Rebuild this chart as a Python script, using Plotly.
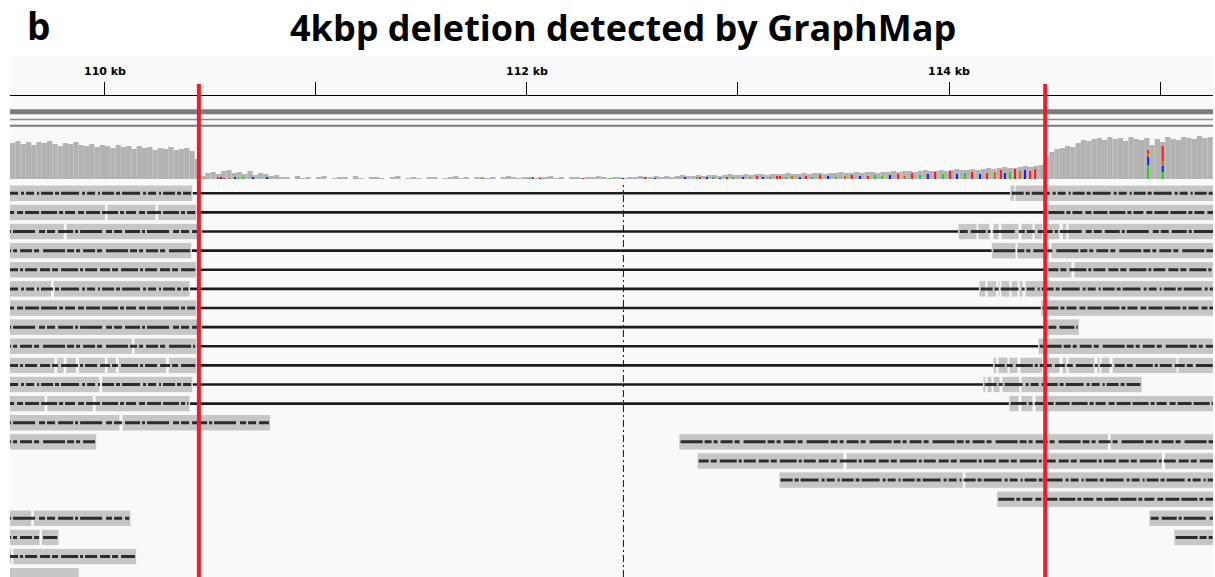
import plotly.graph_objects as go

# ---------------------------------------------------------------- page geometry
W, H = 1215, 577
M_L, M_R, M_T, M_B = 10, 2, 56, 0
PLOT_W = W - M_L - M_R
PLOT_H = H - M_T - M_B


def py(px):
    """pixel row on the page -> paper fraction"""
    return (H - M_B - px) / PLOT_H


def pxx(px):
    """pixel column on the page -> paper fraction"""
    return (px - M_L) / PLOT_W


# ---------------------------------------------------------------- data (kb)
view_kb = [109.5498, 115.2512]
tick_kb = [110, 111, 112, 113, 114, 115]
tick_text = ["110 kb", "", "112 kb", "", "114 kb", ""]
breakpoints_kb = [110.445, 114.456]
center_kb = 112.457

# read depth, three bin sets (start kb, bin size kb, depths)
cov_left_start, cov_left_step = 109.55, 0.025
cov_left = [36, 38, 35, 37, 34, 37, 36, 38, 35, 33, 36, 35, 37, 34, 33, 35, 32, 34,
            33, 31, 34, 32, 33, 30, 33, 31, 32, 29, 31, 30, 32, 29, 30, 31, 28, 20]
cov_mid_start, cov_mid_step = 110.45, 0.025
cov_mid = [3, 6, 7, 5, 8, 9, 6, 7, 5, 8, 4, 6, 5, 3, 4, 2,
           2, 0, 3, 1, 2, 0, 2, 3, 0, 1, 2, 2, 0, 3, 1, 0, 2, 2, 1, 0, 2, 3, 0, 1,
           2, 1, 0, 2, 2, 0, 1, 2, 3, 1, 2, 0, 2, 2, 1, 2, 0, 2, 3, 2, 1, 2, 2, 1,
           2, 2, 3, 1, 2, 0, 2, 2, 1, 2, 2, 3, 2, 1, 2, 2, 1, 2, 2, 3, 2, 2, 3, 2,
           3, 2, 3, 4, 3, 3, 4, 3, 4, 4, 3, 4, 5, 4, 4, 5, 4, 5, 5, 4, 5, 5,
           5, 6, 5, 5, 6, 5, 6, 6, 5, 6, 6, 7, 6, 6, 7, 6, 7, 7, 6, 7,
           7, 8, 7, 8, 8, 7, 8, 9, 8, 8, 9, 8, 9, 10, 9, 9, 10, 9, 10, 11,
           10, 11, 12, 11, 11, 12, 13, 12, 13, 14]
cov_right_start, cov_right_step = 114.45, 0.025
cov_right = [24, 27, 30, 31, 33, 32, 36, 39, 38, 40, 41, 39, 42, 40, 41, 38,
             42, 40, 39, 41, 34, 40, 37, 42, 40, 39, 42, 41, 40, 43, 41, 42]

# mismatching bases inside the deletion (position kb, base, count)
snv_sites = [
    (110.474, "G", 1), (110.536, "T", 2), (110.550, "C", 2), (110.564, "T", 1),
    (110.592, "G", 1), (110.616, "C", 2), (110.630, "A", 1), (110.654, "A", 2),
    (110.701, "C", 2), (110.768, "C", 2), (110.773, "A", 1), (111.787, "G", 1),
    (112.014, "A", 1), (112.028, "T", 2), (112.062, "T", 1), (112.265, "T", 1),
    (112.393, "A", 1), (112.455, "C", 1), (112.559, "T", 2), (112.607, "C", 1),
    (112.749, "C", 2), (112.806, "A", 2), (112.820, "T", 2), (112.853, "C", 2),
    (112.882, "A", 2), (112.915, "C", 1), (112.948, "T", 2), (112.976, "A", 2),
    (113.024, "C", 2), (113.057, "A", 2), (113.090, "T", 3), (113.118, "C", 2),
    (113.152, "A", 2), (113.185, "T", 3), (113.199, "T", 3), (113.227, "A", 2),
    (113.256, "G", 3), (113.294, "C", 2), (113.322, "T", 3), (113.351, "A", 2),
    (113.389, "T", 4), (113.427, "C", 3), (113.464, "A", 2), (113.507, "G", 3),
    (113.540, "T", 4), (113.578, "C", 3), (113.616, "T", 3), (113.649, "A", 4),
    (113.682, "A", 3), (113.720, "C", 4), (113.758, "T", 5), (113.791, "G", 3),
    (113.825, "T", 6), (113.863, "A", 4), (113.900, "C", 5), (113.934, "T", 7),
    (113.972, "A", 5), (114.005, "T", 8), (114.038, "C", 5), (114.076, "A", 6),
    (114.109, "T", 7), (114.147, "C", 5), (114.180, "T", 6), (114.218, "G", 7),
    (114.246, "T", 9), (114.265, "C", 6), (114.289, "A", 7), (114.313, "T", 10),
    (114.336, "G", 8), (114.360, "C", 9), (114.384, "T", 8), (114.408, "T", 10),
]

# mixed-allele columns right of the deletion (position kb, counts A, C, G, T)
allele_kb = [114.944, 115.013]
allele_A = [14, 7]
allele_C = [8, 6]
allele_G = [4, 5]
allele_T = [3, 15]

# aligned reads: one list per row, each read a list of aligned blocks (start, end) kb
read_rows = [
    [[(109.40, 110.416)], [(114.289, 114.313), (114.313, 115.40)]],
    [[(109.40, 110.003), (110.009, 110.242), (110.248, 110.435)], [(114.463, 115.40)]],
    [[(109.40, 109.807), (109.815, 110.458)],
     [(114.043, 114.133), (114.137, 114.194), (114.209, 114.237), (114.246, 114.332),
      (114.341, 114.398), (114.403, 114.445), (114.464, 114.526), (114.536, 114.559),
      (114.564, 115.40)]],
    [[(109.40, 110.411)], [(114.202, 114.318), (114.322, 114.476), (114.483, 115.40)]],
    [[(109.40, 110.435)], [(114.463, 114.583), (114.592, 115.40)]],
    [[(109.40, 109.747), (109.755, 110.403)],
     [(114.142, 114.175), (114.180, 114.227), (114.232, 114.242), (114.246, 114.289),
      (114.294, 114.327), (114.332, 114.351), (114.360, 115.40)]],
    [[(109.40, 110.435)], [(114.435, 115.40)]],
    [[(109.40, 110.458)], [(114.463, 114.618)]],
    [[(109.40, 110.131), (110.137, 110.435)], [(114.422, 115.40)]],
    [[(109.40, 109.763), (109.771, 109.807), (109.815, 109.866), (109.873, 110.003),
      (110.009, 110.055), (110.062, 110.292), (110.300, 110.435)],
     [(114.209, 114.227), (114.232, 114.280), (114.284, 114.327), (114.336, 114.445),
      (114.464, 114.526), (114.536, 114.559), (114.564, 114.692), (114.701, 114.716),
      (114.720, 114.763), (114.773, 115.081), (115.085, 115.40)]],
    [[(109.40, 109.976), (109.984, 110.416)],
     [(114.161, 114.175), (114.180, 114.204), (114.209, 114.242), (114.251, 114.336),
      (114.341, 114.915)]],
    [[(109.40, 109.716), (109.724, 109.945), (109.953, 110.403)],
     [(114.284, 114.332), (114.341, 114.398), (114.408, 115.40)]],
    [[(109.40, 110.071), (110.081, 110.785)]],
    [[(109.40, 109.961)], [(112.720, 114.756), (114.763, 115.40)]],
    [[(112.806, 113.502), (113.512, 115.012), (115.021, 115.40)]],
    [[(113.194, 114.068), (114.075, 115.40)]],
    [[(114.226, 115.40)]],
    [[(109.40, 109.653), (109.660, 110.123)], [(114.948, 115.40)]],
    [[(109.40, 109.692), (109.698, 109.782)], [(115.066, 115.40)]],
    [[(109.40, 109.558), (109.563, 110.150)]],
    [[(109.40, 109.878)]],
]
# rows whose mismatch marks fall below the visible window
unmarked_rows = [20]

# split alignments spanning the deletion: (row, gap start kb, gap end kb)
deletion_spans = [
    (0, 110.416, 114.289), (1, 110.435, 114.463), (2, 110.458, 114.043),
    (3, 110.411, 114.202), (4, 110.435, 114.463), (5, 110.403, 114.142),
    (6, 110.435, 114.435), (7, 110.458, 114.463), (8, 110.435, 114.422),
    (9, 110.435, 114.209), (10, 110.416, 114.161), (11, 110.403, 114.284),
]

# ---------------------------------------------------------------- styles
BG = "#f9f9f9"
COV_GREY = "#b3b3b3"
READ_GREY = "#c6c6c6"
INK = "#1c1c1c"
RED = "#e8202a"
BASE_COLORS = {"A": "#22d022", "C": "#1a1aff", "G": "#d17105", "T": "#ff1a1a"}
MISMATCH_DASHES = [
    "12px,2px,4px,2px,18px,3px,3px,2px,8px,3px,2px,2px",
    "16px,2px,4px,2px,10px,3px,6px,2px,14px,2px",
    "8px,3px,15px,2px,3px,2px,22px,4px,6px,2px",
    "22px,2px,7px,2px,4px,3px,12px,2px,5px,4px",
    "10px,2px,6px,3px,17px,2px,3px,2px,12px,3px",
]
ROW_SPAN_PX = 19.12
ROW0_PX = 193.3

fig = go.Figure()

# ruler subplot placeholder (keeps the x axis anchored to the ruler track)
fig.add_trace(go.Scatter(x=[], y=[], xaxis="x", yaxis="y", showlegend=False))

# ---- coverage track
cov_x, cov_y, cov_w = [], [], []
for start, step, vals in [(cov_left_start, cov_left_step, cov_left),
                          (cov_mid_start, cov_mid_step, cov_mid),
                          (cov_right_start, cov_right_step, cov_right)]:
    for i, v in enumerate(vals):
        cov_x.append(start + step * (i + 0.5))
        cov_y.append(v)
        cov_w.append(step)
fig.add_trace(go.Bar(x=cov_x, y=cov_y, width=cov_w, xaxis="x", yaxis="y2",
                     marker=dict(color=COV_GREY, line=dict(width=0)),
                     showlegend=False, hoverinfo="skip"))

snv_w = 0.0095
for base, color in BASE_COLORS.items():
    sx = [p for p, b, d in snv_sites if b == base]
    sy = [d for p, b, d in snv_sites if b == base]
    fig.add_trace(go.Bar(x=sx, y=sy, width=snv_w, xaxis="x", yaxis="y2",
                         marker=dict(color=color, line=dict(width=0)),
                         showlegend=False, hoverinfo="skip"))

stack_base = [0] * len(allele_kb)
for base, counts in [("A", allele_A), ("C", allele_C), ("G", allele_G), ("T", allele_T)]:
    fig.add_trace(go.Bar(x=allele_kb, y=counts, base=list(stack_base), width=snv_w,
                         xaxis="x", yaxis="y2",
                         marker=dict(color=BASE_COLORS[base], line=dict(width=0)),
                         showlegend=False, hoverinfo="skip"))
    stack_base = [s + c for s, c in zip(stack_base, counts)]

# ---- alignments
blk_y, blk_base, blk_len = [], [], []
for row, reads in enumerate(read_rows):
    for read in reads:
        for s, e in read:
            blk_y.append(row)
            blk_base.append(s)
            blk_len.append(e - s)
fig.add_trace(go.Bar(y=blk_y, x=blk_len, base=blk_base, orientation="h", width=0.86,
                     xaxis="x", yaxis="y3",
                     marker=dict(color=READ_GREY, line=dict(color=BG, width=1)),
                     showlegend=False, hoverinfo="skip"))

# deletion connectors
dx, dy = [], []
for row, s, e in deletion_spans:
    dx += [s, e, None]
    dy += [row, row, None]
fig.add_trace(go.Scatter(x=dx, y=dy, mode="lines", xaxis="x", yaxis="y3",
                         line=dict(color=INK, width=2.6),
                         showlegend=False, hoverinfo="skip"))

# mismatch marks along each read
inset = 0.008
for row, reads in enumerate(read_rows):
    if row in unmarked_rows:
        continue
    mx, my = [], []
    for read in reads:
        mx += [read[0][0] + inset, read[-1][1] - inset, None]
        my += [row, row, None]
    fig.add_trace(go.Scatter(x=mx, y=my, mode="lines", xaxis="x", yaxis="y3",
                             line=dict(color=INK, width=3,
                                       dash=MISMATCH_DASHES[row % len(MISMATCH_DASHES)]),
                             opacity=0.9, showlegend=False, hoverinfo="skip"))

# ---------------------------------------------------------------- shapes
shapes = [
    dict(type="rect", xref="paper", yref="paper", x0=0, x1=1, y0=0, y1=1,
         fillcolor=BG, line=dict(width=0), layer="below"),
    # collapsed annotation tracks under the ruler
    dict(type="line", xref="paper", yref="paper", x0=0, x1=1, y0=py(111.8), y1=py(111.8),
         line=dict(color="#7b7b7b", width=5)),
    dict(type="line", xref="paper", yref="paper", x0=0, x1=1, y0=py(119.4), y1=py(119.4),
         line=dict(color="#8c8c8c", width=1.5)),
    dict(type="line", xref="paper", yref="paper", x0=0, x1=1, y0=py(125.8), y1=py(125.8),
         line=dict(color="#7b7b7b", width=2)),
    # centre line
    dict(type="line", xref="x", yref="paper", x0=center_kb, x1=center_kb, y0=0, y1=py(185),
         line=dict(color="#111111", width=1, dash="7px,3px,2px,3px"), layer="above"),
]
for bp in breakpoints_kb:
    shapes.append(dict(type="line", xref="x", yref="paper", x0=bp, x1=bp, y0=0, y1=py(84),
                       line=dict(color=RED, width=4), layer="above"))

annotations = [
    dict(text="4kbp deletion detected by GraphMap", xref="paper", yref="paper",
         x=pxx(623), y=py(27), xanchor="center", yanchor="middle", showarrow=False,
         font=dict(family="Open Sans", size=36, weight="bold", color="#000000")),
    dict(text="b", xref="paper", yref="paper", x=pxx(38), y=py(26),
         xanchor="center", yanchor="middle", showarrow=False,
         font=dict(family="Open Sans", size=37, weight="bold", color="#000000")),
]

rows_top = -0.5
rows_bottom = rows_top + (H - (ROW0_PX - ROW_SPAN_PX / 2)) / ROW_SPAN_PX

fig.update_layout(
    width=W, height=H,
    margin=dict(l=M_L, r=M_R, t=M_T, b=M_B, pad=0),
    paper_bgcolor="#ffffff", plot_bgcolor=BG,
    barmode="overlay", showlegend=False,
    shapes=shapes, annotations=annotations,
    xaxis=dict(domain=[0, 1], range=view_kb, side="top", anchor="y",
               tickvals=tick_kb, ticktext=tick_text, ticks="outside", ticklen=13,
               tickwidth=1, tickcolor="#000000", showline=True, linecolor="#000000",
               linewidth=1, showgrid=False, zeroline=False, ticklabelstandoff=3,
               tickfont=dict(family="DejaVu Sans", size=11, weight="bold", color="#000000")),
    yaxis=dict(domain=[py(130), py(96)], range=[0, 1], visible=False),
    yaxis2=dict(domain=[py(179), py(129)], range=[0, 50], visible=False),
    yaxis3=dict(domain=[0, py(ROW0_PX - ROW_SPAN_PX / 2)], range=[rows_bottom, rows_top],
                visible=False),
)

fig.write_html("out.html")
